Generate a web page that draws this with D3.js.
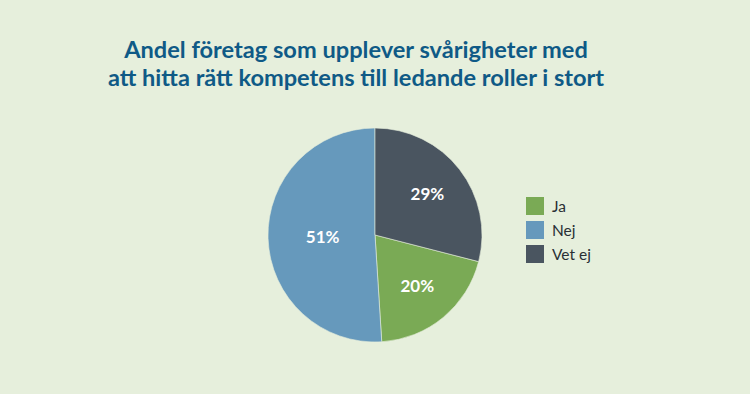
<!DOCTYPE html>
<html><head><meta charset="utf-8">
<script src="https://cdn.jsdelivr.net/npm/d3@7"></script>
<style>html,body{margin:0;padding:0;background:#e6efdc;}svg{display:block;}</style>
</head><body>
<script>
const titleLines = ["Andel företag som upplever svårigheter med", "att hitta rätt kompetens till ledande roller i stort"];
const categories = ["Ja", "Nej", "Vet ej"];
const values = [20, 51, 29];
const colors = ["#7aaa55", "#6699bc", "#4a5560"];

const W = 750, H = 394;
const svg = d3.select("body").append("svg").attr("width", W).attr("height", H);
svg.append("rect").attr("width", W).attr("height", H).attr("fill", "#e6efdc");

svg.append("g").selectAll("text").data(titleLines).join("text")
  .attr("x", 356).attr("y", (d, i) => 58 + i * 28)
  .attr("text-anchor", "middle")
  .attr("font-family", "Lato, 'Open Sans', sans-serif")
  .attr("font-weight", 700).attr("font-size", 23.6)
  .attr("fill", "#0f5a86").text(d => d);

const data = categories.map((c, i) => ({ cat: c, value: values[i], color: colors[i] }));
const r = 107, cx = 375, cy = 235;
// draw order clockwise from top: Vet ej, Ja, Nej
const order = ["Vet ej", "Ja", "Nej"];
const pie = d3.pie().sort((a, b) => order.indexOf(a.cat) - order.indexOf(b.cat)).value(d => d.value);
const arcs = pie(data);
const arc = d3.arc().innerRadius(0).outerRadius(r);
const g = svg.append("g").attr("transform", `translate(${cx},${cy})`);
g.selectAll("path").data(arcs).join("path")
  .attr("d", arc).attr("fill", d => d.data.color)
  .attr("stroke", "#e6efdc").attr("stroke-width", 0.6);
g.selectAll("text").data(arcs).join("text")
  .attr("transform", d => {
    const lr = r * (d.data.value > 50 ? 0.49 : 0.62);
    const a = (d.startAngle + d.endAngle) / 2;
    return `translate(${Math.sin(a) * lr},${-Math.cos(a) * lr})`;
  })
  .attr("text-anchor", "middle").attr("dy", "0.36em")
  .attr("font-family", "Lato, 'Open Sans', sans-serif")
  .attr("font-weight", 700).attr("font-size", 17).attr("fill", "#ffffff")
  .text(d => d.data.value + "%");

const leg = svg.append("g").attr("transform", "translate(526,197)");
const li = leg.selectAll("g").data(data).join("g").attr("transform", (d, i) => `translate(0,${i * 24})`);
li.append("rect").attr("width", 18).attr("height", 18).attr("fill", d => d.color);
li.append("text").attr("x", 26).attr("y", 9).attr("dy", "0.36em")
  .attr("font-family", "Lato, 'Open Sans', sans-serif").attr("font-size", 15.5).attr("fill", "#2a2f35")
  .text(d => d.cat);
</script>
</body></html>
